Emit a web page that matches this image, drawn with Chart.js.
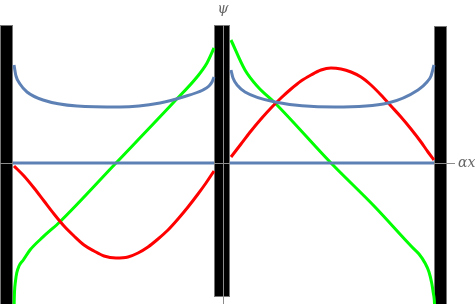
<!DOCTYPE html>
<html>
<head>
<meta charset="utf-8">
<script src="https://cdn.jsdelivr.net/npm/chart.js@4"></script>
<style>
html, body { margin: 0; padding: 0; background: #fff; }
#box { width: 475px; height: 304px; position: relative; }
</style>
</head>
<body>
<div id="box"><canvas id="chart"></canvas></div>
<script>
// blue: lowest state, U shaped in each well
const blueLeftX  = [-1.045, -1.035, -1.015, -0.98, -0.90, -0.73, -0.515, -0.315, -0.20, -0.10, -0.07, -0.055, -0.045];
const blueLeftY  = [0.98, 0.87, 0.79, 0.71, 0.63, 0.57, 0.56, 0.60, 0.66, 0.73, 0.77, 0.81, 0.86];
const blueRightX = [0.04, 0.05, 0.075, 0.11, 0.26, 0.56, 0.825, 0.975, 1.02, 1.04, 1.055];
const blueRightY = [0.93, 0.85, 0.77, 0.71, 0.61, 0.56, 0.60, 0.73, 0.81, 0.87, 0.98];

// blue flat line at zero
const zeroX = [-1.05, -0.045, 0.035, 1.055];

// red
const redLeftX  = [-1.045, -0.995, -0.945, -0.895, -0.845, -0.795, -0.745, -0.695, -0.645, -0.595, -0.535,
                   -0.475, -0.425, -0.375, -0.325, -0.275, -0.225, -0.175, -0.125, -0.085, -0.045];
const redLeftY  = [-0.03, -0.13, -0.25, -0.38, -0.51, -0.63, -0.73, -0.82, -0.88, -0.93, -0.95,
                   -0.94, -0.90, -0.84, -0.76, -0.67, -0.56, -0.44, -0.31, -0.20, -0.08];
const redRightX = [0.04, 0.09, 0.14, 0.19, 0.24, 0.29, 0.34, 0.39, 0.44, 0.49, 0.54,
                   0.59, 0.64, 0.69, 0.74, 0.79, 0.84, 0.89, 0.94, 0.99, 1.025, 1.055];
const redRightY = [0.06, 0.19, 0.32, 0.44, 0.55, 0.65, 0.74, 0.82, 0.88, 0.93, 0.95,
                   0.94, 0.91, 0.86, 0.78, 0.68, 0.57, 0.46, 0.34, 0.21, 0.11, 0.03];

// green
const greenLeftX  = [-1.045, -1.0425, -1.0375, -1.0315, -1.02, -0.9985, -0.965, -0.8985, -0.815, -0.535, -0.25, -0.13, -0.08, -0.045];
const greenLeftY  = [-1.47, -1.29, -1.18, -1.10, -1.03, -0.97, -0.87, -0.737, -0.587, 0.00, 0.60, 0.86, 1.00, 1.15];
const greenRightX = [0.04, 0.11, 0.175, 0.26, 0.54, 0.76, 0.945, 0.98, 1.01, 1.03, 1.0435, 1.0515, 1.0565, 1.059];
const greenRightY = [1.23, 0.93, 0.76, 0.60, 0.00, -0.44, -0.84, -0.91, -1.00, -1.09, -1.20, -1.30, -1.37, -1.47];

// potential walls
const wallFrom   = [-1.115, -0.045, 1.055];
const wallTo     = [-1.05, 0.035, 1.12];
const wallTop    = [1.38, 1.38, 1.37];
const wallBottom = [-1.6, -1.34, -1.6];

const xAxisEnd = 1.16;
const xLabel = 'αx';
const yLabel = 'ψ';

const pts = (xs, ys) => xs.map((x, i) => ({ x: x, y: ys[i] }));

const BLUE = '#5e81b5';
const RED = '#ff0000';
const GREEN = '#00ff00';

function line(data, color) {
    return {
        data: data,
        borderColor: color,
        backgroundColor: color,
        borderWidth: 3,
        pointRadius: 0,
        fill: false,
        cubicInterpolationMode: 'monotone'
    };
}

const zeroData = [
    { x: zeroX[0], y: 0 }, { x: zeroX[1], y: 0 },
    { x: 0, y: null },
    { x: zeroX[2], y: 0 }, { x: zeroX[3], y: 0 }
];

const wallsAndAxes = {
    id: 'wallsAndAxes',
    beforeDatasetsDraw(chart) {
        const { ctx, scales: { x, y } } = chart;
        ctx.save();
        wallFrom.forEach((x0, i) => {
            const l = x.getPixelForValue(x0);
            const r = x.getPixelForValue(wallTo[i]);
            const t = y.getPixelForValue(wallTop[i]);
            const b = y.getPixelForValue(wallBottom[i]);
            ctx.fillStyle = '#000';
            ctx.fillRect(l, t, r - l, b - t);
            ctx.strokeStyle = '#777';
            ctx.lineWidth = 1;
            ctx.strokeRect(l + 0.5, t + 0.5, r - l - 1, b - t - 1);
        });
        // axes
        const y0 = Math.round(y.getPixelForValue(0)) + 0.5;
        const x0 = Math.round(x.getPixelForValue(0)) + 0.5;
        ctx.strokeStyle = '#8c8c8c';
        ctx.lineWidth = 1;
        ctx.beginPath();
        ctx.moveTo(x.left, y0);
        ctx.lineTo(x.getPixelForValue(xAxisEnd), y0);
        ctx.moveTo(x0, y.getPixelForValue(wallTop[1]));
        ctx.lineTo(x0, y.bottom);
        ctx.stroke();
        ctx.restore();
    },
    afterDatasetsDraw(chart) {
        const { ctx, scales: { x, y } } = chart;
        ctx.save();
        ctx.fillStyle = '#666';
        ctx.font = 'italic 14px "DejaVu Serif"';
        ctx.textBaseline = 'middle';
        ctx.textAlign = 'left';
        ctx.fillText(xLabel, x.getPixelForValue(xAxisEnd) + 3, y.getPixelForValue(0));
        ctx.textAlign = 'center';
        ctx.fillText(yLabel, x.getPixelForValue(0), y.top + 9);
        ctx.restore();
    }
};

const ctx = document.getElementById('chart').getContext('2d');
const myChart = new Chart(ctx, {
    type: 'line',
    data: {
        datasets: [
            line(zeroData, BLUE),
            line(pts(blueLeftX, blueLeftY), BLUE),
            line(pts(blueRightX, blueRightY), BLUE),
            line(pts(redLeftX, redLeftY), RED),
            line(pts(redRightX, redRightY), RED),
            line(pts(greenLeftX, greenLeftY), GREEN),
            line(pts(greenRightX, greenRightY), GREEN)
        ]
    },
    options: {
        animation: false,
        responsive: true,
        maintainAspectRatio: false,
        layout: { padding: 0 },
        scales: {
            x: { type: 'linear', min: -1.115, max: 1.26, display: false },
            y: { min: -1.41, max: 1.63, display: false }
        },
        plugins: {
            legend: { display: false },
            tooltip: { enabled: false }
        }
    },
    plugins: [wallsAndAxes]
});
</script>
</body>
</html>
